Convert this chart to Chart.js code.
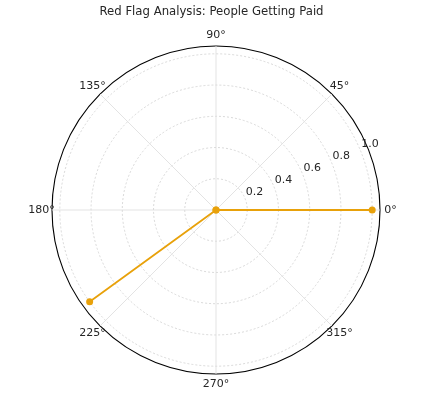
<!DOCTYPE html>
<html>
<head>
<meta charset="utf-8">
<script src="https://cdn.jsdelivr.net/npm/chart.js@4/dist/chart.umd.min.js"></script>
<style>
  html, body { margin: 0; padding: 0; background: #fff; }
  canvas { display: block; }
</style>
</head>
<body>
<canvas id="chart" width="423" height="394"></canvas>
<script>
// Daten
const chartTitle = 'Red Flag Analysis: People Getting Paid';
const angleTicks = [0, 45, 90, 135, 180, 225, 270, 315];   // Grad
const radialTicks = [0.2, 0.4, 0.6, 0.8, 1.0];
const radialMax = 1.05;
const spokeAngles = [0, 216];     // Grad, jeweils vom Ursprung aus
const spokeValues = [1.0, 1.0];

const lineColor = '#e8a10a';
const textColor = '#262626';
const fontFamily = '"DejaVu Sans", sans-serif';

// 1-Grad-Raster fuer die Radialskala, gegen den Uhrzeigersinn wie bei matplotlib
const angleSlots = Array.from({ length: 360 }, (_, i) => (360 - i) % 360);
const slotOf = deg => ((360 - deg) % 360 + 360) % 360;

// Jede Speiche als eigener Datensatz: Ursprung -> Spitze
const datasets = spokeAngles.map((deg, k) => {
    const data = Array(360).fill(null);
    data[slotOf(deg)] = spokeValues[k];
    data[(slotOf(deg) + 180) % 360] = 0;
    return {
        data,
        borderColor: lineColor,
        backgroundColor: lineColor,
        borderWidth: 1.8,
        pointRadius: 3.5,
        pointBorderWidth: 0,
        pointBackgroundColor: lineColor,
        fill: false,
        spanGaps: true
    };
});

// Winkel- und Radiusbeschriftungen wie bei matplotlib
const polarLabels = {
    id: 'polarLabels',
    afterDraw(chart) {
        const r = chart.scales.r;
        const ctx = chart.ctx;
        ctx.save();
        ctx.fillStyle = textColor;
        ctx.font = '11px ' + fontFamily;

        ctx.textAlign = 'left';
        ctx.textBaseline = 'bottom';
        radialTicks.forEach(v => {
            const p = r.getPointPosition(slotOf(22.5), r.getDistanceFromCenterForValue(v));
            ctx.fillText(v.toFixed(1), p.x + 1, p.y - 0.5);
        });

        // alle Winkel-Labels mittig im gleichen Abstand
        ctx.textAlign = 'center';
        ctx.textBaseline = 'middle';
        angleTicks.forEach(a => {
            const p = r.getPointPosition(slotOf(a), r.drawingArea + 10.5);
            ctx.fillText(a + '°', p.x, p.y);
        });
        ctx.restore();
    }
};

new Chart(document.getElementById('chart'), {
    type: 'radar',
    data: { labels: angleSlots, datasets },
    plugins: [polarLabels],
    options: {
        responsive: false,
        animation: false,
        plugins: {
            legend: { display: false },
            tooltip: { enabled: false },
            title: {
                display: true,
                text: chartTitle,
                color: textColor,
                font: { family: fontFamily, size: 11.7, weight: 'normal' },
                padding: { top: 5, bottom: 5 }
            }
        },
        scales: {
            r: {
                min: 0,
                max: radialMax,
                startAngle: 90,
                afterBuildTicks: scale => {
                    scale.ticks = [0, ...radialTicks, radialMax].map(v => ({ value: v }));
                },
                afterFit: scale => {
                    scale.xCenter = 216;
                    scale.yCenter = 210;
                    scale.drawingArea = 164;
                },
                ticks: { display: false },
                pointLabels: { display: false },
                grid: {
                    circular: true,
                    color: c => c.tick && c.tick.value >= radialMax ? '#000' : '#cfcfcf',
                    lineWidth: c => c.tick && c.tick.value >= radialMax ? 1.1 : 0.8
                },
                border: {
                    dash: c => c.tick && c.tick.value >= radialMax ? [] : [2, 2]
                },
                angleLines: {
                    color: '#dcdcdc',
                    lineWidth: c => angleTicks.includes(angleSlots[c.index]) ? 0.8 : 0
                }
            }
        }
    }
});
</script>
</body>
</html>
